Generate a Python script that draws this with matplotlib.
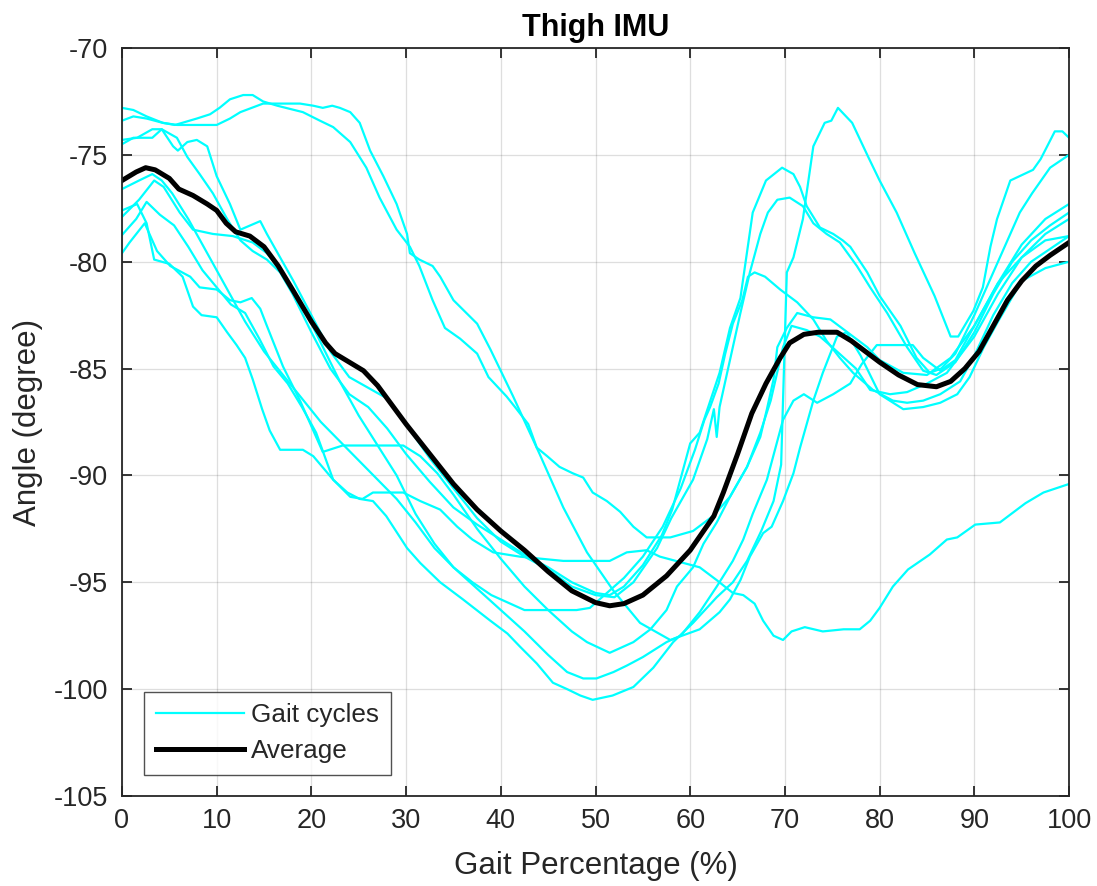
import numpy as np
import matplotlib
matplotlib.use("Agg")
import matplotlib.pyplot as plt

plt.rcParams['font.family'] = ['Liberation Sans', 'DejaVu Sans']
plt.rcParams['axes.unicode_minus'] = False

# thigh angle per gait cycle, (gait %, angle in degrees)
c1_x = [0, 1.2, 2.6, 4.3, 5.6, 7.9, 9.3, 10.3, 11.4, 12.8, 13.8, 14.9, 16.4, 19.1, 20.9, 22.3, 24.1, 25.8,
        27.2, 29, 30.4, 31.4, 32.8, 34.1, 35.7, 37.5, 38.7, 40.6, 41.5, 42.9, 43.8, 44.9, 46.2, 47.6, 48.7,
        49.7, 51.2, 52.6, 54, 55.4, 57.9, 60.3, 62.4, 64.2, 66, 67.4, 68.5, 69.8, 70.7, 72.3, 73.7, 75,
        77.5, 79, 81.1, 82.9, 85, 87.1, 90, 92.5, 95, 97.5, 100]
c1_y = [-72.8, -72.9, -73.2, -73.5, -73.6, -73.3, -73.1, -72.8, -72.4, -72.2, -72.2, -72.5, -72.7, -73.0,
        -73.4, -73.7, -74.4, -75.6, -77.0, -78.5, -79.3, -80.2, -81.8, -83.1, -83.6, -84.3, -85.4, -86.3,
        -86.8, -87.6, -88.7, -89.1, -89.6, -89.9, -90.1, -90.8, -91.2, -91.7, -92.4, -92.9, -92.9, -92.6,
        -91.9, -91.0, -89.6, -88.0, -86.5, -84.0, -83.0, -83.2, -83.5, -84.0, -85.0, -86.0, -86.2, -86.1,
        -85.7, -85.2, -83.5, -81.5, -79.8, -78.7, -78.0]

c2_x = [0, 1.2, 2.6, 4.3, 5.8, 10, 11.4, 12.5, 14.9, 16.4, 18.8, 20.2, 21.2, 22.2, 23, 24.1, 25.1, 26.2,
        27.6, 29, 30.1, 30.4, 31.4, 32.8, 33.6, 35, 37.5, 38.9, 41.3, 44.1, 46.6, 49.1, 51.9, 54.7, 57.9,
        61, 63.1, 64.2, 65.3, 66.3, 67.7, 68.6, 69.8, 70.9, 71.6, 73, 74, 75.5, 76.5, 78, 80, 82.5, 84.6,
        86.4, 88.2, 89.5, 91, 92.5, 95, 97.5, 100]
c2_y = [-73.4, -73.2, -73.3, -73.5, -73.6, -73.6, -73.3, -73.0, -72.6, -72.6, -72.6, -72.7, -72.8, -72.7,
        -72.8, -73.0, -73.5, -74.8, -76.0, -77.3, -78.7, -79.6, -79.9, -80.2, -80.7, -81.8, -82.9, -84.1,
        -86.3, -89.0, -91.5, -93.6, -95.4, -96.9, -97.7, -97.2, -96.4, -95.8, -94.9, -93.8, -92.7, -92.4,
        -91.2, -89.9, -88.7, -86.5, -85.2, -83.5, -83.3, -84.4, -86.2, -86.9, -86.8, -86.6, -86.2, -85.4,
        -84.0, -82.8, -80.9, -80.3, -80.0]

c3_x = [0, 1.6, 2.6, 3.4, 5, 6.4, 7.5, 8.4, 10, 11.1, 12.1, 13, 13.8, 14.8, 15.6, 16.7, 19.1, 20.2, 22.3,
        23.8, 25.1, 26.5, 27.9, 30.1, 31.5, 33.6, 36, 38.9, 40.7, 42, 43.8, 45.5, 47, 48.4, 49.7, 51.8,
        54, 56.1, 58.2, 60.3, 62.8, 64.5, 66, 67.5, 68.8, 69.6, 69.8, 70.2, 70.9, 71.9, 73, 74.2, 74.9,
        75.6, 77.1, 78.8, 80, 81.8, 83.7, 85.8, 87.5, 88.3, 89.9, 90.9, 91.7, 92.4, 93.8, 96.2, 97, 98.5,
        99.3, 100]
c3_y = [-77.6, -77.3, -78.2, -79.9, -80.1, -80.7, -82.1, -82.5, -82.6, -83.3, -83.9, -84.5, -85.5, -86.9,
        -87.9, -88.8, -88.8, -89.1, -90.2, -90.8, -91.1, -91.2, -91.9, -93.4, -94.1, -95.0, -95.8, -96.8,
        -97.4, -98.0, -98.8, -99.7, -100.0, -100.3, -100.5, -100.3, -99.9, -99.0, -97.8, -96.9, -95.7,
        -95.0, -94.0, -92.6, -91.2, -89.5, -86.5, -80.5, -79.8, -78.0, -74.6, -73.5, -73.4, -72.8, -73.5,
        -75.1, -76.2, -77.7, -79.6, -81.6, -83.5, -83.5, -82.3, -81.2, -79.3, -78.0, -76.2, -75.7, -75.2,
        -73.9, -73.9, -74.2]

c4_x = [0, 0.8, 2.4, 3.7, 5.1, 7.2, 8.2, 10, 11.4, 12.5, 13.7, 14.6, 15.3, 17, 18.8, 20.2, 21.2, 23.3,
        29.7, 31.5, 33.3, 35, 37.5, 40, 42.5, 45, 47.5, 49.1, 51.5, 54, 55.8, 57.5, 58.6, 60.3, 61.4, 62.8,
        64.2, 66, 67.4, 68.1, 68.8, 69.2, 70.2, 71.3, 73, 74.8, 76.6, 78.7, 80, 82.5, 85, 87.5, 90, 92.5,
        95, 97.5, 100]
c4_y = [-79.6, -79.1, -78.2, -79.5, -80.2, -80.7, -81.2, -81.3, -81.8, -81.9, -81.7, -82.2, -83.0, -84.9,
        -86.5, -87.9, -88.9, -88.6, -88.6, -89.1, -89.9, -90.9, -92.5, -93.9, -95.2, -96.3, -97.3, -97.8,
        -98.3, -97.8, -97.2, -96.3, -95.2, -94.3, -93.2, -92.2, -91.0, -89.6, -88.2, -86.9, -85.5, -84.0,
        -83.1, -82.4, -82.6, -82.7, -83.3, -84.0, -84.6, -85.2, -85.3, -84.5, -83.0, -81.0, -79.2, -78.0,
        -77.3]

c5_x = [0, 1.8, 3.4, 4.4, 6.1, 7.5, 9.6, 11.7, 13.8, 15.3, 17, 19, 21, 23, 25, 27, 29, 31, 33, 35, 37.5,
        40, 42.5, 45, 47, 48.7, 50.1, 51.9, 53.3, 55, 57.5, 59, 61, 62.8, 64.5, 65.6, 66.6, 68.1, 69.8,
        70.9, 72, 73.4, 75.1, 76.9, 78.1, 79.7, 83.5, 84.6, 86.4, 88, 90, 92.5, 95, 97.5, 100]
c5_y = [-77.9, -77.1, -76.2, -76.5, -77.7, -78.5, -78.7, -78.8, -79.1, -79.6, -80.5, -82.0, -83.8, -85.6,
        -87.2, -88.6, -90.0, -91.8, -93.2, -94.3, -95.3, -96.3, -97.3, -98.4, -99.2, -99.5, -99.5, -99.2,
        -98.9, -98.5, -97.8, -97.5, -96.4, -95.2, -94.0, -93.0, -91.8, -90.2, -87.4, -86.5, -86.2, -86.6,
        -86.2, -85.7, -84.8, -83.9, -83.9, -84.5, -85.1, -84.6, -83.0, -81.0, -79.8, -79.0, -78.8]

c6_x = [0, 1.6, 3.2, 4.2, 5.8, 6.9, 8.2, 9.6, 11.1, 12.5, 13.8, 15.3, 16.7, 18, 20, 22, 24, 26, 28, 30,
        32.5, 35, 37.5, 40, 42.5, 45, 47.5, 50, 51.5, 53, 55, 57, 58.1, 60, 61, 61.9, 63.1, 64.2, 65.3,
        66.6, 68, 69.7, 70.9, 71.6, 72.3, 73.7, 75.1, 76.1, 76.9, 78.7, 80, 82.2, 83.9, 85.3, 86.5, 88,
        90, 91.5, 93.5, 94.8, 96.1, 98, 100]
c6_y = [-74.3, -74.2, -73.8, -73.8, -74.2, -75.1, -75.9, -76.8, -78.0, -79.0, -79.5, -79.9, -80.5, -81.5,
        -83.3, -85.0, -86.2, -86.8, -87.8, -89.0, -90.3, -91.5, -92.3, -93.0, -93.7, -94.3, -95.0, -95.5,
        -95.6, -95.2, -94.2, -92.8, -91.6, -88.5, -88.0, -86.8, -85.2, -83.1, -81.7, -77.7, -76.2, -75.6,
        -75.9, -76.5, -77.4, -78.4, -78.7, -79.0, -79.3, -80.5, -81.6, -83.0, -84.5, -85.2, -85.0, -84.3,
        -82.5, -81.0, -79.0, -77.7, -76.8, -75.6, -75.0]

c7_x = [0, 1.2, 3.2, 4.2, 5.4, 5.9, 6.9, 7.9, 9, 10, 11.4, 12.5, 14.6, 15.3, 16.7, 18.1, 20, 22, 24, 26,
        28, 30, 32.5, 35, 37.5, 40, 42.5, 45, 47.5, 50, 52, 54, 56.5, 58, 60.3, 61.8, 62.5, 62.8, 63.1,
        64.2, 65.3, 66.3, 67.4, 68.2, 69.2, 70.5, 71.9, 73, 74.4, 75.8, 77.6, 79, 80.8, 82.9, 84.6, 86,
        88, 90, 92, 94, 96, 98, 100]
c7_y = [-74.5, -74.2, -74.2, -73.8, -74.6, -74.8, -74.4, -74.3, -74.6, -76.0, -77.3, -78.5, -78.1, -78.7,
        -79.8, -80.9, -82.5, -84.2, -85.4, -85.9, -86.4, -87.6, -89.2, -90.6, -92.0, -93.1, -93.8, -94.4,
        -95.2, -95.6, -95.7, -95.0, -93.4, -92.0, -90.2, -88.3, -86.9, -88.2, -86.8, -84.6, -82.4, -80.5,
        -78.7, -77.7, -77.1, -77.0, -77.4, -78.2, -78.7, -79.1, -80.2, -81.2, -82.4, -84.0, -85.1, -85.3,
        -84.7, -83.3, -81.5, -80.0, -79.0, -78.3, -77.7]

c8_x = [0, 1.8, 3.2, 4.2, 5.3, 7, 9, 11, 13, 15, 17, 19, 21, 23, 25, 27, 29, 31, 33, 35, 37, 39, 41,
        42.5, 45.2, 48, 49.4, 51.2, 53, 55, 57.1, 59, 60.5, 61.5, 62.1, 63, 63.7, 64.5, 65.5, 66.1, 66.8,
        67.9, 69.5, 71.3, 73, 74.4, 75.8, 77.2, 79.3, 81.4, 82.9, 84.6, 86.4, 88.5, 90, 92, 94, 96, 98, 100]
c8_y = [-76.6, -76.2, -75.9, -76.2, -76.8, -78.0, -79.6, -81.2, -82.8, -84.2, -85.3, -86.4, -87.5, -88.4,
        -89.3, -90.2, -91.1, -92.2, -93.4, -94.3, -95.0, -95.6, -96.0, -96.3, -96.3, -96.3, -96.2, -95.5,
        -94.8, -93.8, -92.4, -90.6, -88.8, -87.4, -86.8, -85.7, -84.3, -82.9, -81.8, -80.7, -80.5, -80.7,
        -81.3, -81.9, -82.7, -83.7, -84.5, -85.2, -86.0, -86.5, -86.6, -86.5, -86.2, -85.6, -84.4, -82.5,
        -81.0, -80.0, -79.4, -78.8]

c9_x = [0, 1.5, 2.6, 4, 5.5, 7, 8.5, 10, 11.5, 13, 14.5, 16, 17.5, 19, 20.5, 22.3, 24.1, 25.4, 26.5, 29.7,
        31.5, 33.6, 35.4, 37, 39.2, 42, 46.6, 51.5, 53.3, 55.4, 56.8, 61, 62.8, 64.5, 65.6, 66.8, 67.7,
        68.8, 69.8, 70.7, 72.1, 74, 76.2, 77.9, 79, 80, 81.4, 83, 85.3, 87.1, 88.2, 90.1, 92.7, 95.4,
        97.3, 100]
c9_y = [-78.75, -78.0, -77.2, -77.8, -78.3, -79.3, -80.4, -81.2, -82.0, -82.4, -83.6, -84.9, -85.7, -86.8,
        -88.0, -90.2, -91.0, -91.1, -90.8, -90.8, -91.2, -91.6, -92.4, -93.0, -93.6, -93.8, -94.0, -94.0,
        -93.6, -93.5, -93.8, -94.3, -94.9, -95.5, -95.6, -96.0, -96.8, -97.5, -97.7, -97.3, -97.1, -97.3,
        -97.2, -97.2, -96.8, -96.2, -95.2, -94.4, -93.7, -93.0, -92.9, -92.3, -92.2, -91.3, -90.8, -90.4]

cycles = [(c1_x, c1_y), (c2_x, c2_y), (c3_x, c3_y), (c4_x, c4_y), (c5_x, c5_y),
          (c6_x, c6_y), (c7_x, c7_y), (c8_x, c8_y), (c9_x, c9_y)]

# mean curve over the cycles
avg_x = [0, 1.5, 2.5, 3.5, 5, 6, 7.5, 9, 10, 11, 12, 13.5, 15, 16.5, 18, 20, 21.5, 22.5, 24, 25.5, 27,
         28.5, 30, 32.5, 35, 37.5, 40, 42.5, 45, 47.5, 50, 51.5, 53, 55, 57.5, 60, 62.5, 63.5, 65, 66.5,
         68, 69.5, 70.5, 72, 73.5, 75.5, 77, 78.5, 80, 82, 84, 86, 87.5, 89, 90.5, 92, 93.5, 95, 96.5,
         98, 100]
avg_y = [-76.2, -75.8, -75.6, -75.7, -76.1, -76.6, -76.9, -77.3, -77.6, -78.2, -78.6, -78.8, -79.3, -80.2,
         -81.3, -82.8, -83.8, -84.3, -84.7, -85.1, -85.8, -86.7, -87.6, -89.0, -90.4, -91.6, -92.6, -93.5,
         -94.5, -95.4, -95.95, -96.1, -96.0, -95.6, -94.7, -93.5, -91.9, -90.8, -89.0, -87.1, -85.7, -84.5,
         -83.8, -83.4, -83.3, -83.3, -83.7, -84.2, -84.7, -85.3, -85.75, -85.85, -85.6, -85.0, -84.2, -83.0,
         -81.8, -80.9, -80.2, -79.7, -79.1]

ink = '#262626'

fig = plt.figure(figsize=(10.97, 8.86), dpi=100)
ax = fig.add_axes([0.1112, 0.1016, 0.8633, 0.8442])

for i, (xs, ys) in enumerate(cycles):
    ax.plot(xs, ys, color='#00ffff', lw=1.6, label='Gait cycles' if i == 0 else None)
ax.plot(avg_x, avg_y, color='black', lw=3.6, label='Average')

ax.set_xlim(0, 100)
ax.set_ylim(-105, -70)
ax.set_xticks(np.arange(0, 101, 10))
ax.set_yticks(np.arange(-105, -69, 5))
ax.grid(True, color=ink, alpha=0.15, lw=0.9)
ax.set_axisbelow(True)

for s in ax.spines.values():
    s.set_color(ink)
    s.set_linewidth(1.3)
ax.tick_params(direction='in', top=True, right=True, length=7, width=1.3,
               colors=ink, labelsize=19.5)
ax.tick_params(axis='x', pad=9)
ax.tick_params(axis='y', pad=10)

ax.set_xlabel('Gait Percentage (%)', fontsize=22.5, color=ink, labelpad=12)
ax.set_ylabel('Angle (degree)', fontsize=22.5, color=ink, labelpad=8)
ax.set_title('Thigh IMU', fontsize=22, fontweight='bold', color='black', pad=9)

leg = ax.legend(loc='lower left', bbox_to_anchor=(0.0232, 0.0281), borderaxespad=0,
                fontsize=18.8, frameon=True, fancybox=False, handlelength=3.4,
                handletextpad=0.25, borderpad=0.45, labelspacing=0.45)
leg.get_frame().set_edgecolor(ink)
leg.get_frame().set_linewidth(1.0)
for t in leg.get_texts():
    t.set_color(ink)

fig.savefig('out.png', dpi=100)
